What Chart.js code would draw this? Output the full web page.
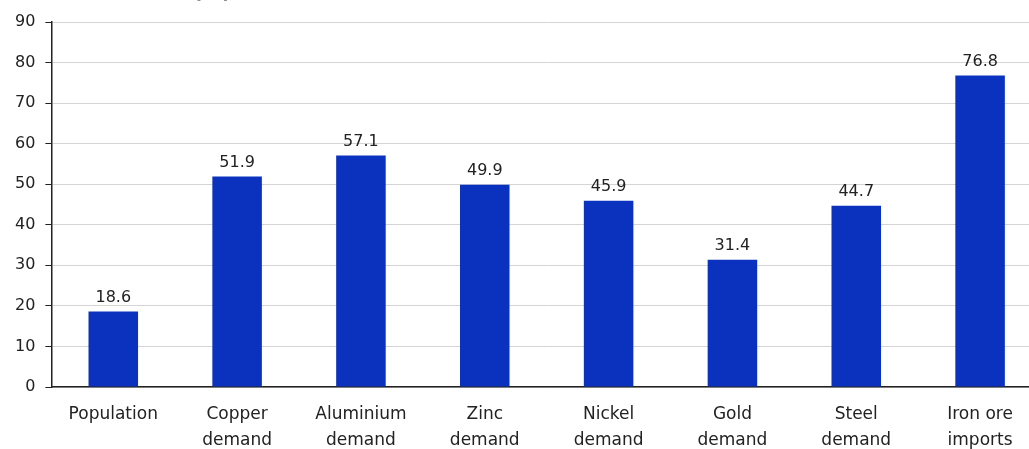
<!DOCTYPE html>
<html>
<head>
<meta charset="utf-8">
<script src="https://cdn.jsdelivr.net/npm/chart.js@4"></script>
<style>
  html, body { margin: 0; padding: 0; background: #fff; overflow: hidden; }
  #wrap { position: relative; width: 1042px; height: 449px; }
  #title { position: absolute; left: 193px; top: -21px; font: bold 20px "DejaVu Sans", sans-serif; color: #222; }
</style>
</head>
<body>
<div id="wrap">
  <canvas id="shareChart"></canvas>
  <div id="title">(%)</div>
</div>
<script>
// chart values
const categories = [
  ['Population'],
  ['Copper', 'demand'],
  ['Aluminium', 'demand'],
  ['Zinc', 'demand'],
  ['Nickel', 'demand'],
  ['Gold', 'demand'],
  ['Steel', 'demand'],
  ['Iron ore', 'imports']
];
const shareValues = [18.6, 51.9, 57.1, 49.9, 45.9, 31.4, 44.7, 76.8];
const yTicks = [0, 10, 20, 30, 40, 50, 60, 70, 80, 90];

const FONT = '"DejaVu Sans", sans-serif';

// --- value labels above bars ---
const barLabels = {
  id: 'barLabels',
  afterDatasetsDraw(chart) {
    const ctx = chart.ctx;
    const meta = chart.getDatasetMeta(0);
    ctx.save();
    ctx.font = '16px ' + FONT;
    ctx.fillStyle = '#222';
    ctx.textAlign = 'center';
    ctx.textBaseline = 'bottom';
    meta.data.forEach(function(bar, i) {
      ctx.fillText(shareValues[i].toFixed(1), bar.x, bar.y - 6);
    });
    ctx.restore();
  }
};

const canvas = document.getElementById('shareChart');
canvas.width = 1042;
canvas.height = 449;

new Chart(canvas.getContext('2d'), {
  type: 'bar',
  data: {
    labels: categories,
    datasets: [{
      data: shareValues,
      backgroundColor: '#0a32be',
      barPercentage: 0.4,
      categoryPercentage: 1
    }]
  },
  options: {
    responsive: false,
    animation: false,
    layout: { padding: { top: 22, left: 5, right: 0, bottom: -19 } },
    plugins: {
      legend: { display: false },
      tooltip: { enabled: false }
    },
    scales: {
      x: {
        grid: { display: false, drawTicks: false },
        border: { color: '#222', width: 1.5 },
        ticks: { color: '#222', font: { family: FONT, size: 17, lineHeight: 1.5 }, maxRotation: 0, autoSkip: false, padding: 15 }
      },
      y: {
        min: 0,
        max: 90,
        afterBuildTicks(axis) { axis.ticks = yTicks.map(v => ({ value: v })); },
        grid: { color: '#d4d4d4', tickColor: '#222', tickLength: 6 },
        border: { color: '#222', width: 1.5 },
        ticks: { color: '#222', font: { family: FONT, size: 16 }, padding: 10 }
      }
    }
  },
  plugins: [barLabels]
});
</script>
</body>
</html>
